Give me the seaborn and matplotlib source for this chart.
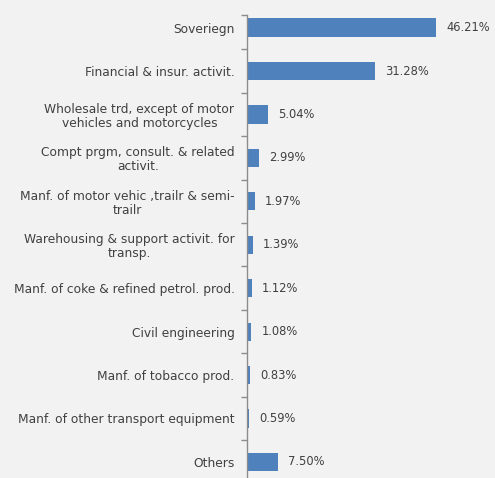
import matplotlib
matplotlib.use("Agg")
import matplotlib.pyplot as plt
import seaborn as sns
import pandas as pd

categories = [
    "Soveriegn",
    "Financial & insur. activit.",
    "Wholesale trd, except of motor\nvehicles and motorcycles",
    "Compt prgm, consult. & related\nactivit.",
    "Manf. of motor vehic ,trailr & semi-\ntrailr",
    "Warehousing & support activit. for\ntransp.",
    "Manf. of coke & refined petrol. prod.",
    "Civil engineering",
    "Manf. of tobacco prod.",
    "Manf. of other transport equipment",
    "Others",
]
shares = [46.21, 31.28, 5.04, 2.99, 1.97, 1.39, 1.12, 1.08, 0.83, 0.59, 7.50]
value_labels = ["46.21%", "31.28%", "5.04%", "2.99%", "1.97%", "1.39%",
                "1.12%", "1.08%", "0.83%", "0.59%", "7.50%"]

df = pd.DataFrame({"sector": categories, "share": shares})

sns.set_theme(style="white")
plt.rcParams["font.family"] = ["DejaVu Sans"]

bg = "#F2F2F2"
text_col = "#404040"
W, H = 495, 478
fig = plt.figure(figsize=(W / 100, H / 100), dpi=100, facecolor=bg)
ax = fig.add_axes([247 / W, 0, (W - 247) / W, (H - 15) / H])
ax.set_facecolor(bg)

sns.barplot(data=df, x="share", y="sector", orient="h", color="#4F81BD",
            width=0.42, saturation=1, ax=ax, edgecolor="none")

ax.set_xlim(0, 60.6)
ax.set_ylim(10.37, -0.29)
ax.set_xlabel("")
ax.set_ylabel("")
ax.set_xticks([])

for s in ["top", "right", "bottom"]:
    ax.spines[s].set_visible(False)
ax.spines["left"].set_color("#8C8C8C")
ax.spines["left"].set_linewidth(1.0)

ax.set_yticks(range(len(categories)))
ax.set_yticklabels(categories, fontsize=8.8, color=text_col,
                   multialignment="center", linespacing=1.1)
ax.tick_params(axis="y", which="major", length=0, pad=9)
ax.set_yticks([-0.29] + [i + 0.5 for i in range(len(categories) - 1)], minor=True)
ax.tick_params(axis="y", which="minor", length=4, width=1.0, color="#8C8C8C",
               direction="out", left=True)

for i, (v, lab) in enumerate(zip(shares, value_labels)):
    ax.annotate(lab, xy=(v, i), xytext=(7.2, 0), textcoords="offset points",
                ha="left", va="center", fontsize=8.3, color=text_col)

fig.savefig("out.png", dpi=100, facecolor=bg)
